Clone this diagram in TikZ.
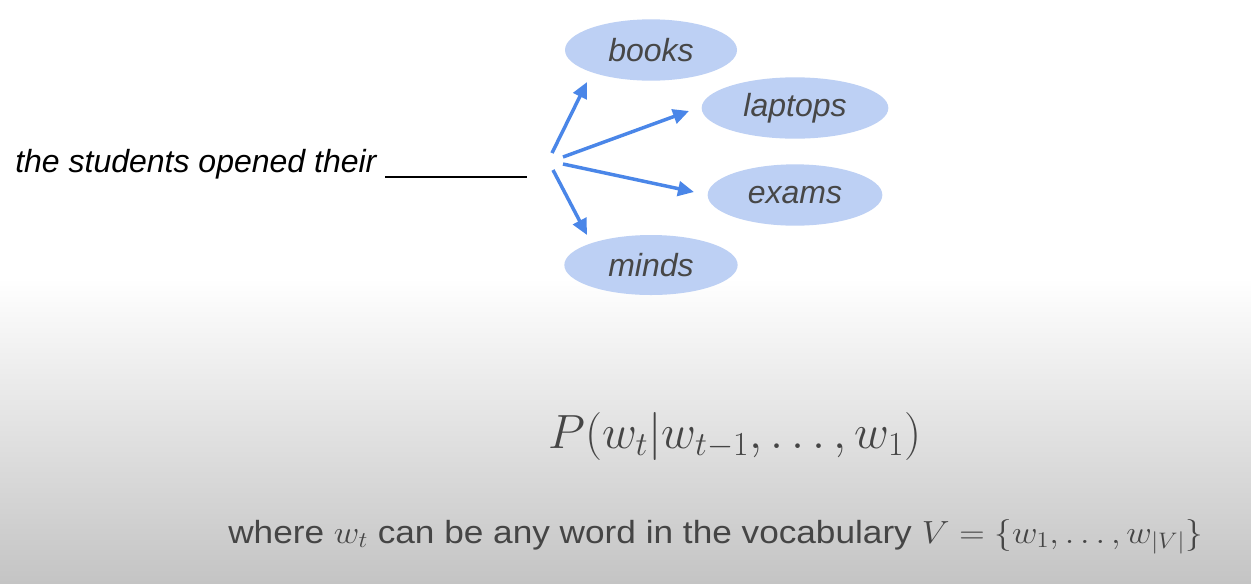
\RequirePackage{fix-cm}
\documentclass[tikz,border=0pt]{standalone}
\usepackage{fontspec}
\usepackage{graphicx}
\setmainfont{Liberation Sans}
\usetikzlibrary{shapes.geometric,arrows.meta}
\definecolor{ellfill}{HTML}{BDD0F4}
\definecolor{arrblue}{HTML}{4A86E8}
\definecolor{wordgray}{HTML}{474747}
\definecolor{formgray}{HTML}{454545}
\definecolor{bggray}{RGB}{196,196,196}
\tikzset{
  wordell/.style={ellipse, fill=ellfill, draw=none, inner sep=0pt,
    minimum width=129pt, minimum height=46pt,
    font=\fontsize{24}{28}\selectfont\itshape, text=wordgray},
  arr/.style={draw=arrblue, line width=2.6pt, -{Triangle[length=12pt,width=11pt]}},
}
\begin{document}
\begin{tikzpicture}[x=0.75pt,y=-0.75pt]
\useasboundingbox (0,0) rectangle (1251,583);
\fill[white] (0,0) rectangle (1251,280);
\shade[top color=white, bottom color=bggray] (0,278) rectangle (1251,583);

\node[anchor=base west, inner sep=0pt, font=\fontsize{24}{28}\selectfont\itshape] (sent) at (15,172) {the students opened their};
\coordinate (ul1) at (385,177);
\coordinate (ul2) at (527,177);
\draw[line width=1.5pt, black] (ul1) -- (ul2);

\node[wordell] (books) at (651,50) {books};
\node[wordell, minimum width=140pt] (laptops) at (795,108) {laptops};
\node[wordell, minimum width=131pt] (exams) at (795,195) {exams};
\node[wordell, minimum width=130pt, minimum height=45pt] (minds) at (651,265) {minds};

\coordinate (s1) at (552,153);
\coordinate (s2) at (563,157);
\coordinate (s3) at (563,164);
\coordinate (s4) at (553,170);
\coordinate (e1) at (587,82);
\coordinate (e2) at (689,111);
\coordinate (e3) at (694,192);
\coordinate (e4) at (587,235);
\draw[arr] (s1) -- (e1);
\draw[arr] (s2) -- (e2);
\draw[arr] (s3) -- (e3);
\draw[arr] (s4) -- (e4);

\node[anchor=base west, inner sep=0pt, text=formgray, font=\fontsize{36}{42}\selectfont] (prob) at (548,448) {$P(w_t|w_{t-1},\ldots,w_1)$};
\node[anchor=base west, inner sep=0pt, text=formgray, font=\fontsize{24}{28}\selectfont] (where) at (228,543) {\scalebox{1.10}[1]{where $w_t$ can be any word in the vocabulary $V=\{w_1,\ldots,w_{|V|}\}$}};
\end{tikzpicture}
\end{document}
